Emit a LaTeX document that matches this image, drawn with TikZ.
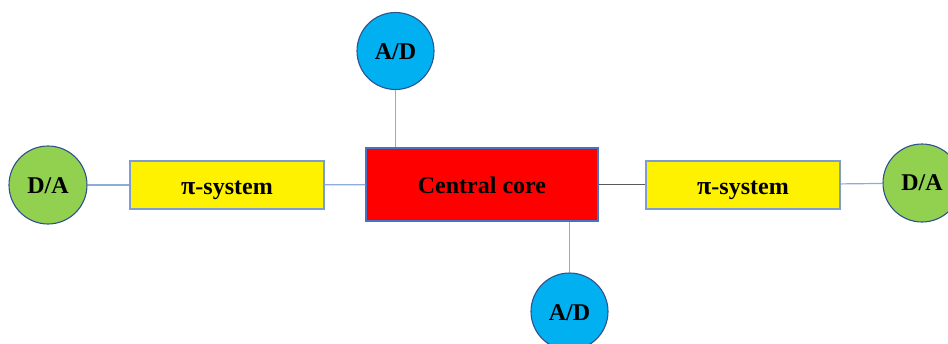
\documentclass[tikz,border=0pt]{standalone}
\usepackage{fontspec}
\setmainfont{Liberation Serif}
\definecolor{dagreen}{HTML}{92D050}
\definecolor{adblue}{HTML}{00B0F0}
\definecolor{circborder}{HTML}{2F528F}
\definecolor{rectborder}{HTML}{4472C4}
\definecolor{linkblue}{HTML}{8FAADC}
\definecolor{linkgrey}{HTML}{595959}
\begin{document}
\begin{tikzpicture}[x=1pt,y=-1pt,
  txt/.style={font=\fontsize{24}{26}\selectfont\bfseries, text=black, text height=17pt, text depth=0pt},
  dacirc/.style={circle, draw=circborder, line width=1.1pt, fill=dagreen, minimum size=78pt, inner sep=0pt, txt},
  adcirc/.style={circle, draw=circborder, line width=1.1pt, fill=adblue, minimum size=77pt, inner sep=0pt, txt},
  pibox/.style={rectangle, draw=rectborder!70, line width=1.1pt, fill=yellow, minimum width=194pt, minimum height=48pt, inner sep=0pt, txt, text height=18pt},
  corebox/.style={rectangle, draw=rectborder, line width=1.1pt, fill=red, minimum width=232pt, minimum height=73pt, inner sep=0pt, txt},
  link/.style={draw=linkblue, line width=1.2pt},
  greylink/.style={draw=linkgrey, line width=0.8pt}]
\useasboundingbox (0,0) rectangle (948,343);
\node[dacirc] (lda) at (48,185) {D/A};
\node[pibox] (lpi) at (227,185) {{\fontsize{26}{26}\selectfont π}-system};
\node[corebox] (core) at (482,184.5) {Central core};
\node[adcirc] (tad) at (395.5,51) {A/D};
\node[adcirc] (bad) at (569.5,311.5) {A/D};
\node[pibox] (rpi) at (743,185) {{\fontsize{26}{26}\selectfont π}-system};
\node[dacirc, text height=14pt] (rda) at (922,183) {D/A};
\draw[link] (lda) -- (lpi);
\draw[link] (lpi) -- (core);
\draw[greylink] (core.east |- 0,184) -- (rpi.west |- 0,184);
\draw[link] (rpi) -- (rda);
\draw[link] (tad) -- (tad |- core.north);
\draw[link] (bad) -- (bad |- core.south);
\end{tikzpicture}
\end{document}
